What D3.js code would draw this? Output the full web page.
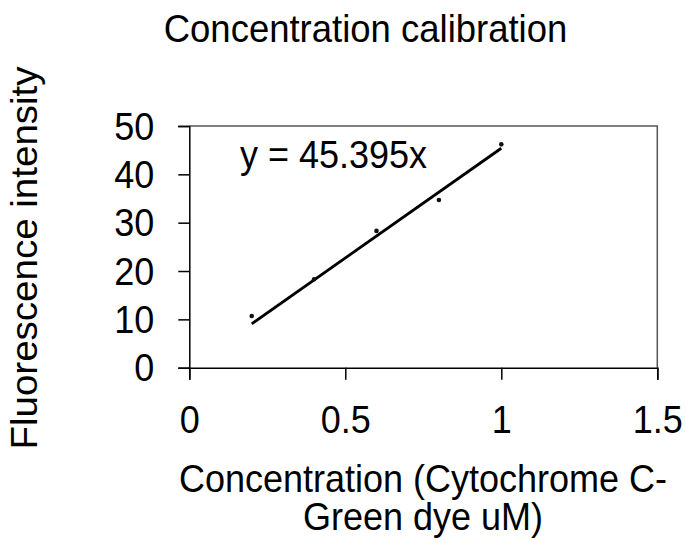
<!DOCTYPE html>
<html>
<head>
<meta charset="utf-8">
<script src="https://cdn.jsdelivr.net/npm/d3@7"></script>
<style>
  html, body { margin: 0; padding: 0; background: #fff; }
  svg { display: block; font-family: "Liberation Sans", Arial, sans-serif; }
</style>
</head>
<body>
<script>
const concentrations = [0.2, 0.4, 0.6, 0.8, 1.0];
const intensities = [10.7, 18.3, 28.3, 34.7, 46.2];
const slope = 45.395;
const xTicks = [0, 0.5, 1, 1.5];
const xTickLabels = ["0", "0.5", "1", "1.5"];
const yTicks = [0, 10, 20, 30, 40, 50];
const yTickLabels = ["0", "10", "20", "30", "40", "50"];
const title = "Concentration calibration";
const xTitleLines = ["Concentration (Cytochrome C-", "Green dye uM)"];
const yTitle = "Fluorescence intensity";
const equation = "y = 45.395x";

(function () {
const W = 686, H = 540;
const pL = 189.3, pR = 657.3, pT = 126, pB = 367.7;
const SY = 1.07; // vertical stretch of text as in the reference

const svg = d3.select("body").append("svg").attr("width", W).attr("height", H);

const x = d3.scaleLinear().domain([0, 1.5]).range([pL, pR]);
const y = d3.scaleLinear().domain([0, 50]).range([pB, pT]);

// plot border (top/right)
svg.append("path")
  .attr("d", `M${pL},${pT}H${pR}V${pB}`)
  .attr("fill", "none").attr("stroke", "#555").attr("stroke-width", 1.5);

// axes
const xAxis = d3.axisBottom(x).tickValues(xTicks).tickSize(12).tickPadding(0).tickFormat((d, i) => xTickLabels[i]);
const gx = svg.append("g").attr("transform", `translate(0,${pB})`).call(xAxis);
gx.select(".domain").attr("stroke", "#000").attr("stroke-width", 1.5);
gx.selectAll(".tick line").attr("stroke", "#000").attr("stroke-width", 1.5);
gx.selectAll(".tick text").attr("font-size", 36).attr("fill", "#000")
  .attr("font-family", "Liberation Sans, Arial, sans-serif")
  .attr("y", 65.5 / SY).attr("dy", 0).attr("transform", `scale(1,${SY})`);

const yAxis = d3.axisLeft(y).tickValues(yTicks).tickSize(11).tickPadding(24).tickFormat((d, i) => yTickLabels[i]);
const gy = svg.append("g").attr("transform", `translate(${pL},0)`).call(yAxis);
gy.select(".domain").attr("stroke", "#000").attr("stroke-width", 1.5);
gy.selectAll(".tick line").attr("stroke", "#000").attr("stroke-width", 1.5);
gy.selectAll(".tick text").attr("font-size", 36).attr("fill", "#000")
  .attr("font-family", "Liberation Sans, Arial, sans-serif")
  .attr("dy", "0.34em").attr("transform", `scale(1,${SY})`);

// trend line
const xMin = d3.min(concentrations), xMax = d3.max(concentrations);
svg.append("line")
  .attr("x1", x(xMin)).attr("y1", y(slope * xMin))
  .attr("x2", x(xMax)).attr("y2", y(slope * xMax))
  .attr("stroke", "#000").attr("stroke-width", 2.8);

// points
svg.selectAll("circle.pt").data(concentrations).enter().append("circle")
  .attr("class", "pt")
  .attr("cx", d => x(d)).attr("cy", (d, i) => y(intensities[i]))
  .attr("r", 2.3).attr("fill", "#111");

function stretchedText(px, py, str, anchor, size) {
  return svg.append("text")
    .attr("transform", `translate(${px},${py}) scale(1,${SY})`)
    .attr("text-anchor", anchor).attr("font-size", size).attr("fill", "#000")
    .text(str);
}

// equation
stretchedText(240, 168, equation, "start", 36);

// title
stretchedText(365.5, 42, title, "middle", 36.5);

// x title
xTitleLines.forEach((line, i) => stretchedText(423, 492 + i * 38, line, "middle", 36));

// y title
svg.append("text").attr("text-anchor", "middle").attr("font-size", 36).attr("fill", "#000")
  .attr("transform", `translate(37,258) scale(1,${SY}) rotate(-90)`).text(yTitle);
})();
</script>
</body>
</html>
